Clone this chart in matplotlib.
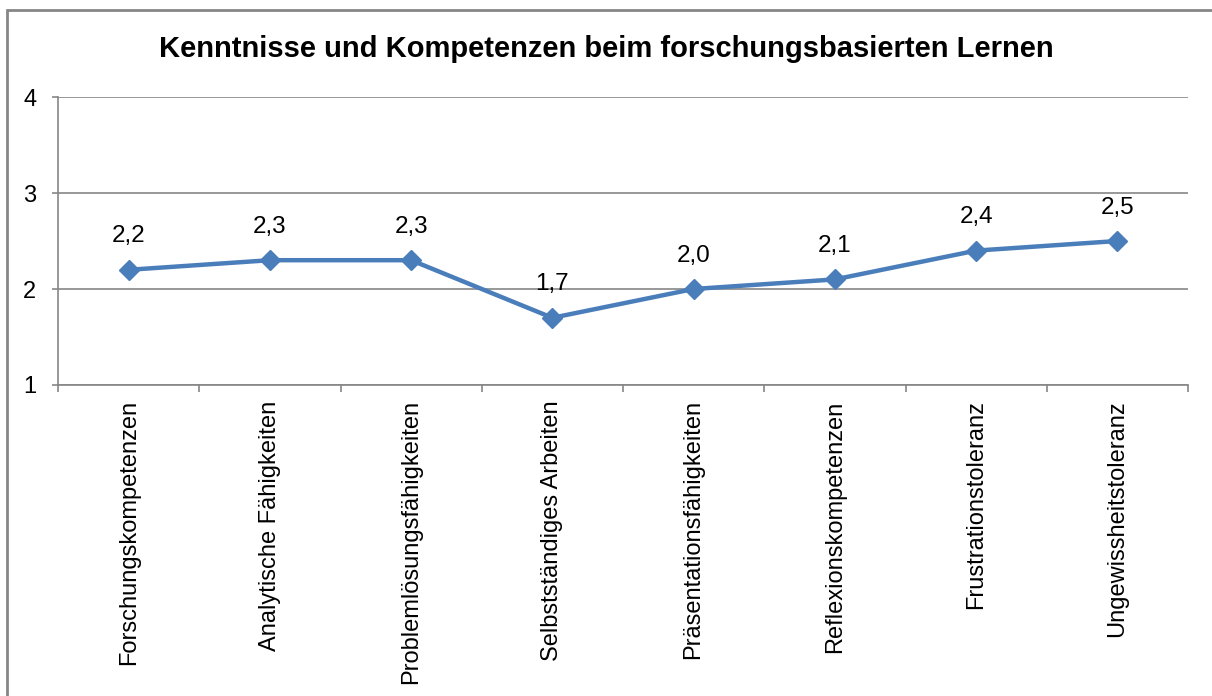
import numpy as np
import matplotlib
matplotlib.use("Agg")
import matplotlib.pyplot as plt
from matplotlib.patches import Rectangle

plt.rcParams['font.family'] = ['Liberation Sans', 'DejaVu Sans']

categories = ["Forschungskompetenzen", "Analytische Fähigkeiten",
              "Problemlösungsfähigkeiten", "Selbstständiges Arbeiten",
              "Präsentationsfähigkeiten", "Reflexionskompetenzen",
              "Frustrationstoleranz", "Ungewissheitstoleranz"]
values = [2.2, 2.3, 2.3, 1.7, 2.0, 2.1, 2.4, 2.5]
y_ticks = [1, 2, 3, 4]

grey = "#868686"
blue = "#4a7ebb"

fig = plt.figure(figsize=(12.12, 6.96), dpi=100)
ax = fig.add_axes([58 / 1212, 1 - 385 / 696, (1188 - 58) / 1212, (385 - 97) / 696])

x = np.arange(len(categories))
ax.plot(x, values, color=blue, lw=3.2, marker='D', ms=10, zorder=3)
for xi, v in zip(x, values):
    ax.annotate(f"{v:.1f}".replace('.', ','), (xi, v), xytext=(0, 24),
                textcoords='offset points', ha='center', va='center', fontsize=17.5)

ax.set_xlim(-0.5, len(categories) - 0.5)
ax.set_ylim(1, 4)
ax.set_yticks(y_ticks)
ax.set_yticklabels([str(t) for t in y_ticks], fontsize=17)
ax.yaxis.grid(True, color=grey, lw=1.2)
ax.set_axisbelow(True)

ax.set_xticks(x)
ax.set_xticklabels(categories, rotation=90, fontsize=17, va='top', ha='center')
ax.set_xticks(np.arange(-0.5, len(categories)), minor=True)
ax.tick_params(axis='x', which='major', length=0, pad=11)
ax.tick_params(axis='x', which='minor', length=5, color=grey, width=1.2)
ax.tick_params(axis='y', length=4.5, color=grey, width=1.2, pad=11)

for side in ['top', 'right']:
    ax.spines[side].set_visible(False)
for side in ['left', 'bottom']:
    ax.spines[side].set_color(grey)
    ax.spines[side].set_linewidth(1.2)

fig.text(0.5, 1 - 49 / 696, "Kenntnisse und Kompetenzen beim forschungsbasierten Lernen",
         ha='center', va='center', fontsize=21, fontweight='bold')

# outer frame of the chart area
fig.patches.append(Rectangle((7 / 1212, -0.1), 1.2, 1 - 10 / 696 + 0.1,
                             transform=fig.transFigure, fill=False,
                             edgecolor=grey, lw=2))

fig.savefig("out.png", dpi=100)
